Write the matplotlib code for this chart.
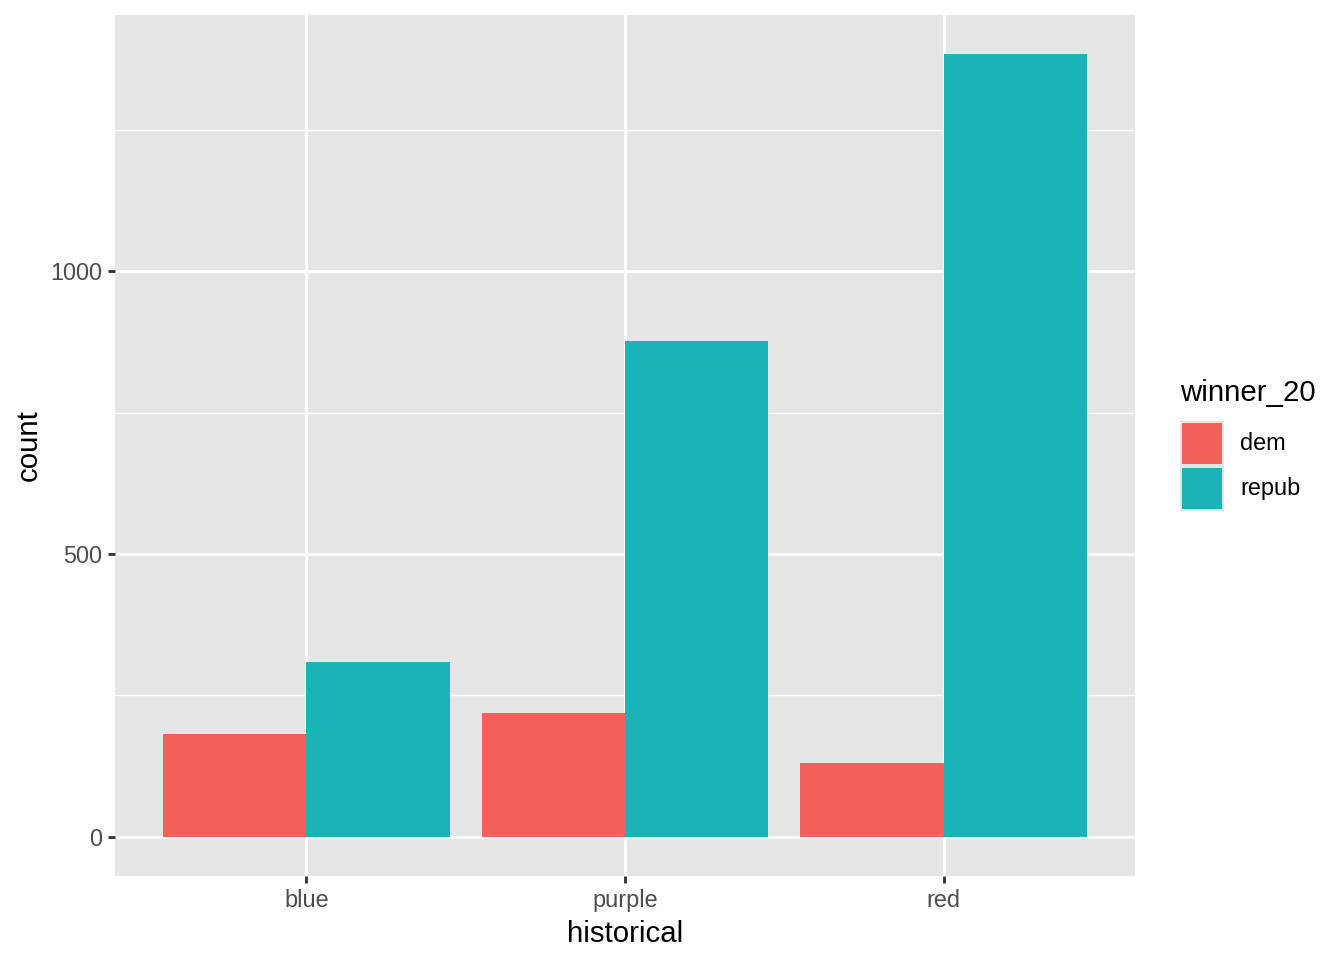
import matplotlib
matplotlib.use("Agg")
import matplotlib.pyplot as plt
from matplotlib.patches import Rectangle
import numpy as np

# data
categories = ["blue", "purple", "red"]
dem_counts = [182, 219, 131]
repub_counts = [310, 876, 1384]
series_names = ["dem", "repub"]

DEM_COLOR = "#F35F5B"
REPUB_COLOR = "#19B3B8"
PANEL_BG = "#E5E5E5"
TEXT_GRAY = "#4D4D4D"

plt.rcParams["font.family"] = ["Liberation Sans", "DejaVu Sans"]

W, H, DPI = 1344, 960, 192
fig = plt.figure(figsize=(W / DPI, H / DPI), dpi=DPI)

# panel position in pixels (left, top, right, bottom)
px_l, px_t, px_r, px_b = 115, 15, 1135, 876
ax = fig.add_axes([px_l / W, 1 - px_b / H, (px_r - px_l) / W, (px_b - px_t) / H])
ax.set_facecolor(PANEL_BG)
for s in ax.spines.values():
    s.set_visible(False)

x = np.arange(len(categories))
bw = 0.45
ax.bar(x - bw / 2, dem_counts, width=bw, color=DEM_COLOR, zorder=3, linewidth=0)
ax.bar(x + bw / 2, repub_counts, width=bw, color=REPUB_COLOR, zorder=3, linewidth=0)

# ggplot style expansion
ymax = max(repub_counts + dem_counts)
ax.set_ylim(-0.05 * ymax, 1.05 * ymax)
ax.set_xlim(-0.6, len(categories) - 0.4)

ax.set_yticks([0, 500, 1000])
ax.set_yticks([250, 750, 1250], minor=True)
ax.set_xticks(x)
ax.set_xticklabels(categories)

ax.grid(which="major", color="white", linewidth=1.07, zorder=0)
ax.grid(which="minor", axis="y", color="white", linewidth=0.53, zorder=0)
ax.set_axisbelow(True)

ax.tick_params(axis="both", which="major", length=2.75, width=1.07, color="#333333",
               labelsize=8.8, labelcolor=TEXT_GRAY, pad=2.2)
ax.tick_params(axis="y", which="minor", length=0)

ax.set_xlabel("historical", fontsize=11, color="black", labelpad=2.75)
ax.set_ylabel("count", fontsize=11, color="black", labelpad=2.75)

# legend drawn by hand, ggplot style
fig.text(1180 / W, 1 - 393 / H, "winner_20", fontsize=11, color="black",
         ha="left", va="center")
key_top = 421
key_h = 45
for i, (name, col) in enumerate(zip(series_names, [DEM_COLOR, REPUB_COLOR])):
    top = key_top + i * key_h
    fig.add_artist(Rectangle((1180 / W, 1 - (top + key_h) / H), 44 / W, key_h / H,
                             transform=fig.transFigure, facecolor=PANEL_BG,
                             edgecolor="none"))
    fig.add_artist(Rectangle((1182 / W, 1 - (top + key_h - 2) / H), 40 / W, (key_h - 4) / H,
                             transform=fig.transFigure, facecolor=col,
                             edgecolor="none"))
    fig.text(1240 / W, 1 - (top + key_h / 2) / H, name, fontsize=8.8, color="black",
             ha="left", va="center")

fig.savefig("out.png", dpi=DPI, facecolor="white")
